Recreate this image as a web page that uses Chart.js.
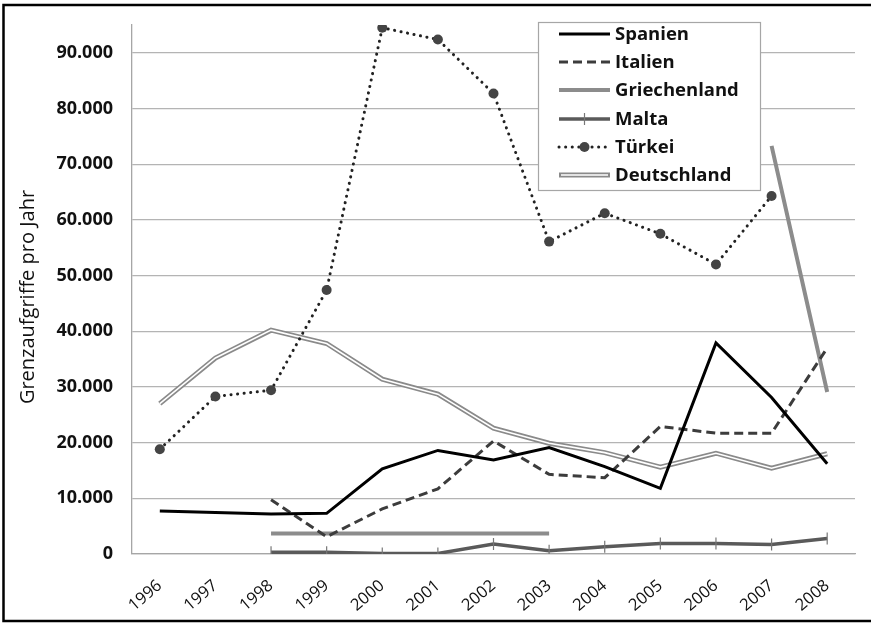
<!DOCTYPE html>
<html lang="de">
<head>
<meta charset="UTF-8">
<title>Grenzaufgriffe pro Jahr</title>
<style>
    body { margin: 0; background: #fff; }
    #wrap { width: 871px; height: 625px; }
</style>
<script src="https://cdn.jsdelivr.net/npm/chart.js"></script>
</head>
<body>
<div id="wrap"><canvas id="chart" width="871" height="625"></canvas></div>
<script>
// Grenzaufgriffe pro Jahr, 1996-2008
const years = ['1996', '1997', '1998', '1999', '2000', '2001', '2002', '2003', '2004', '2005', '2006', '2007', '2008'];
const spanien = [7700, 7450, 7200, 7300, 15300, 18600, 16900, 19100, 15700, 11800, 37900, 28100, 16200];
const italien = [null, null, 9750, 3100, 8100, 11700, 20300, 14300, 13700, 22900, 21700, 21700, 37000];
const griechenland = [null, null, 3700, 3700, 3700, 3700, 3700, 3700, null, null, null, 73300, 29100];
const malta = [null, null, 300, 300, 100, 100, 1800, 600, 1300, 1900, 1900, 1700, 2800];
const tuerkei = [18800, 28300, 29400, 47400, 94500, 92400, 82700, 56100, 61200, 57500, 52000, 64300, null];
const deutschland = [27000, 35200, 40200, 37800, 31400, 28700, 22600, 19900, 18200, 15600, 18100, 15400, 18000];
const seriesNames = ['Spanien', 'Italien', 'Griechenland', 'Malta', 'Türkei', 'Deutschland'];
const yTicks = [0, 10000, 20000, 30000, 40000, 50000, 60000, 70000, 80000, 90000];

function fmt(v) {
    return String(v).replace(/\B(?=(\d{3})+(?!\d))/g, '.');
}

// legend, axis title and frame are drawn by hand (legend sits inside the plot)
const extras = {
    id: 'extras',
    afterDraw(chart) {
        const ctx = chart.ctx;
        ctx.save();

        // legend box
        ctx.fillStyle = '#fff';
        ctx.fillRect(538.5, 22.5, 222, 168);
        ctx.strokeStyle = '#a6a6a6';
        ctx.lineWidth = 1.2;
        ctx.strokeRect(538.5, 22.5, 222, 168);

        const x0 = 559, x1 = 610, tx = 615;
        const rowY = [34, 62, 90, 119, 147, 175];
        const ds = chart.data.datasets;
        seriesNames.forEach((name, i) => {
            const d = ds[i];
            const y = rowY[i];
            ctx.setLineDash(d.borderDash || []);
            ctx.lineCap = d.borderCapStyle || 'butt';
            ctx.strokeStyle = d.borderColor;
            ctx.lineWidth = d.borderWidth;
            ctx.beginPath();
            ctx.moveTo(x0, y);
            ctx.lineTo(x1, y);
            ctx.stroke();
            ctx.setLineDash([]);
            ctx.lineCap = 'butt';
            if (name === 'Deutschland') {
                ctx.strokeStyle = '#fff';
                ctx.lineWidth = ds[6].borderWidth;
                ctx.beginPath();
                ctx.moveTo(x0 + 2, y);
                ctx.lineTo(x1 - 2, y);
                ctx.stroke();
            }
            if (name === 'Malta') {
                ctx.strokeStyle = d.pointBorderColor;
                ctx.lineWidth = d.pointBorderWidth;
                ctx.beginPath();
                ctx.moveTo((x0 + x1) / 2, y - d.pointRadius);
                ctx.lineTo((x0 + x1) / 2, y + d.pointRadius);
                ctx.stroke();
            }
            if (name === 'Türkei') {
                ctx.fillStyle = d.pointBackgroundColor;
                ctx.beginPath();
                ctx.arc((x0 + x1) / 2, y, d.pointRadius, 0, Math.PI * 2);
                ctx.fill();
            }
            ctx.fillStyle = '#111';
            ctx.font = 'bold 18.5px "Open Sans"';
            ctx.textBaseline = 'middle';
            ctx.textAlign = 'left';
            ctx.fillText(name, tx, y + 1);
        });

        // y axis title
        ctx.translate(28, 297);
        ctx.rotate(-Math.PI / 2);
        ctx.fillStyle = '#111';
        ctx.font = '20px "Open Sans"';
        ctx.textAlign = 'center';
        ctx.textBaseline = 'middle';
        ctx.fillText('Grenzaufgriffe pro Jahr', 0, 0);
        ctx.setTransform(1, 0, 0, 1, 0, 0);

        // outer frame
        ctx.strokeStyle = '#000';
        ctx.lineWidth = 2.5;
        ctx.strokeRect(3.5, 5, 880, 616);
        ctx.restore();
    }
};

new Chart(document.getElementById('chart'), {
    type: 'line',
    data: {
        labels: years,
        datasets: [
            { label: 'Spanien', data: spanien, borderColor: '#000', borderWidth: 3, pointRadius: 0, order: 1 },
            { label: 'Italien', data: italien, borderColor: '#3c3c3c', borderWidth: 3, borderDash: [9, 5], pointRadius: 0, order: 2 },
            { label: 'Griechenland', data: griechenland, borderColor: '#8c8c8c', borderWidth: 4, pointRadius: 0, order: 3 },
            { label: 'Malta', data: malta, borderColor: '#5a5a5a', borderWidth: 3.5,
              pointStyle: 'line', rotation: 90, pointRadius: 6, pointBorderWidth: 1.2, pointBorderColor: '#777', order: 4 },
            { label: 'Türkei', data: tuerkei, borderColor: '#222', borderWidth: 3, borderDash: [0.1, 6.5], borderCapStyle: 'round',
              pointRadius: 5, pointBackgroundColor: '#444', pointBorderWidth: 0, order: 0 },
            { label: 'Deutschland', data: deutschland, borderColor: '#8a8a8a', borderWidth: 5, pointRadius: 0, order: 6 },
            { label: 'Deutschland (innen)', data: deutschland, borderColor: '#fff', borderWidth: 1.6, pointRadius: 0, order: 5 }
        ]
    },
    options: {
        responsive: false,
        animation: false,
        spanGaps: false,
        layout: { padding: { top: 25, right: 16, left: 0, bottom: 0 } },
        plugins: { legend: { display: false }, tooltip: { enabled: false } },
        scales: {
            x: {
                offset: true,
                grid: { display: false },
                border: { color: '#a6a6a6', width: 1.3 },
                ticks: {
                    autoSkip: false,
                    color: '#111',
                    font: { family: 'Open Sans', size: 16.5 },
                    minRotation: 40,
                    maxRotation: 40,
                    padding: 14
                },
                afterFit(s) { s.height = 71; }
            },
            y: {
                min: 0,
                max: 95000,
                grid: { color: '#b4b4b4', lineWidth: 1.3, drawTicks: false },
                border: { color: '#a6a6a6', width: 1.3 },
                ticks: {
                    autoSkip: false,
                    padding: 19,
                    color: '#111',
                    font: { family: 'Open Sans', size: 18, weight: 'bold' },
                    callback: v => fmt(v)
                },
                afterBuildTicks(s) { s.ticks = yTicks.map(v => ({ value: v })); },
                afterFit(s) {
                    s.width = 132;
                    s.paddingTop = 0;
                    s.paddingBottom = 0;
                }
            }
        }
    },
    plugins: [extras]
});
</script>
</body>
</html>
